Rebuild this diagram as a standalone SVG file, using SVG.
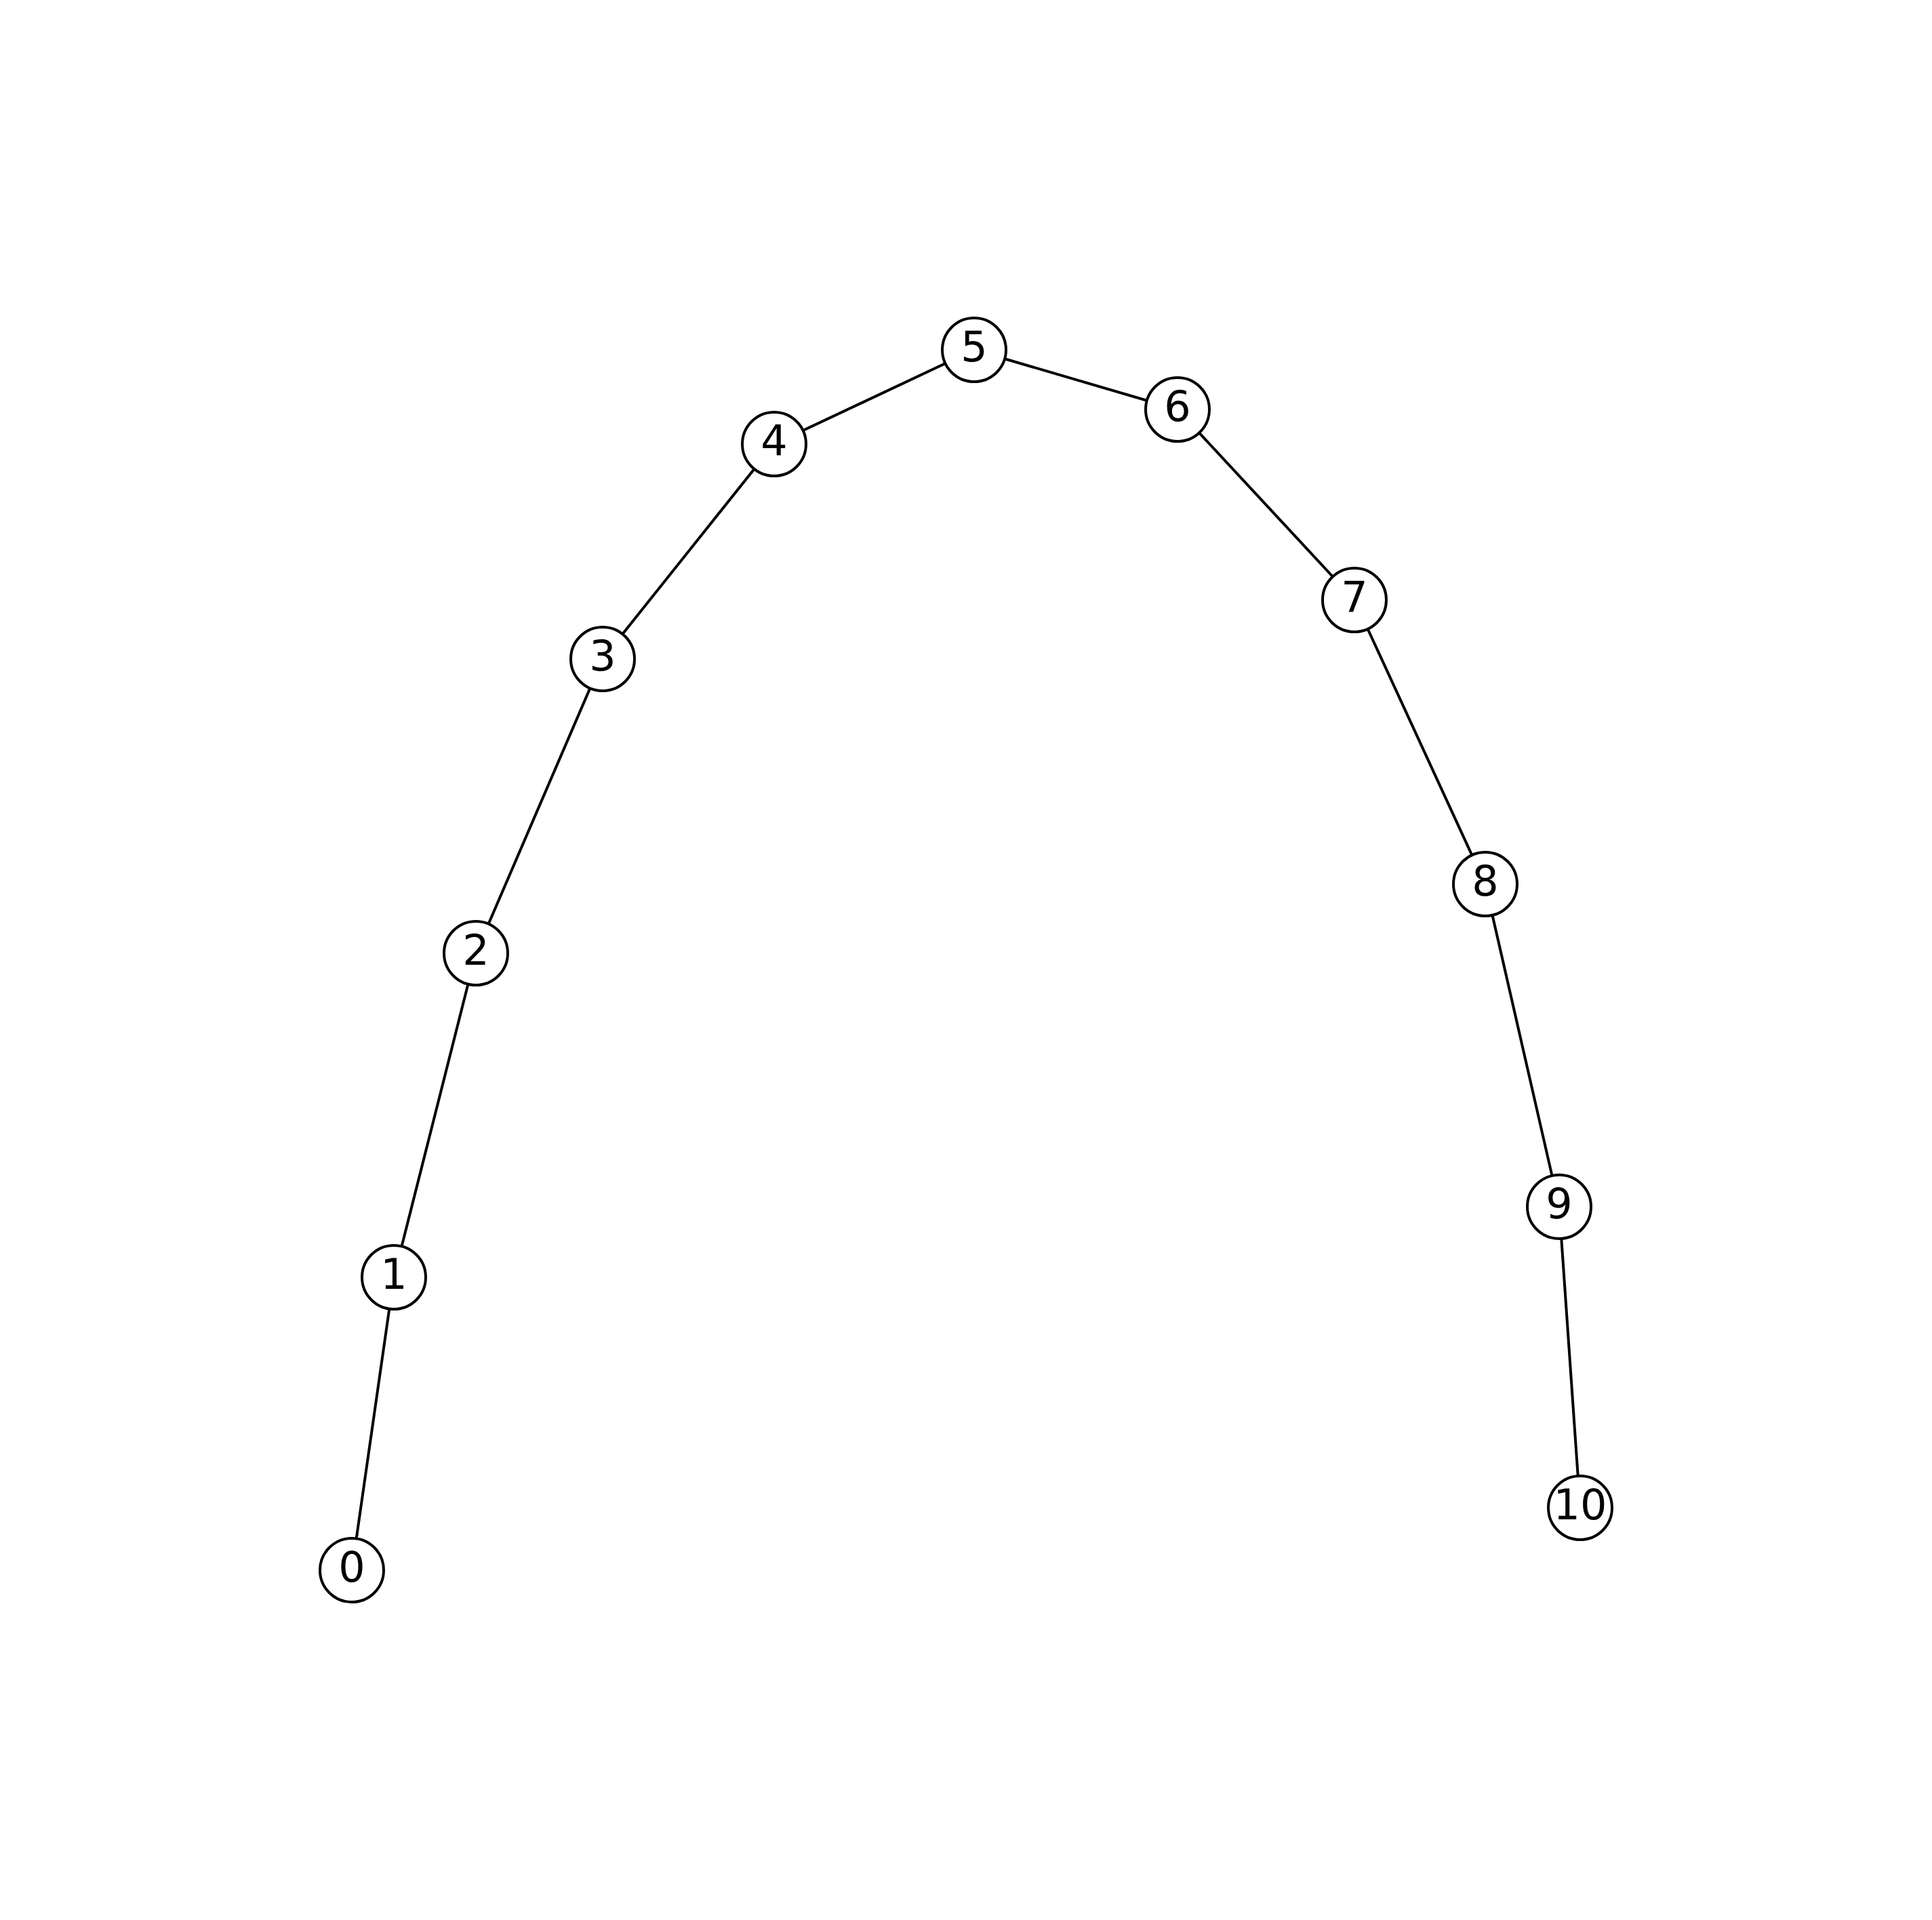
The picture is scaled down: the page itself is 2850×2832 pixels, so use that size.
<svg xmlns="http://www.w3.org/2000/svg" width="2850" height="2832" viewBox="0 0 2850 2832">
<style>
.e{stroke:#000;stroke-width:4;fill:none}
.n circle{fill:#fff;stroke:#000;stroke-width:4}
.n text{font-family:"DejaVu Sans",sans-serif;font-size:62px;text-anchor:middle;fill:#000}
</style>
<rect width="2850" height="2832" fill="#fff"/>
<g id="edges" class="e">
<line x1="519" y1="2316" x2="581" y2="1884"/>
<line x1="581" y1="1884" x2="702" y2="1406"/>
<line x1="702" y1="1406" x2="889" y2="972"/>
<line x1="889" y1="972" x2="1142" y2="655"/>
<line x1="1142" y1="655" x2="1437" y2="516"/>
<line x1="1437" y1="516" x2="1737" y2="604"/>
<line x1="1737" y1="604" x2="1998" y2="885"/>
<line x1="1998" y1="885" x2="2191" y2="1304"/>
<line x1="2191" y1="1304" x2="2300" y2="1780"/>
<line x1="2300" y1="1780" x2="2331" y2="2224"/>
</g>
<g id="n0" class="n"><circle cx="519" cy="2316" r="47"/><text x="519" y="2333">0</text></g>
<g id="n1" class="n"><circle cx="581" cy="1884" r="47"/><text x="581" y="1901">1</text></g>
<g id="n2" class="n"><circle cx="702" cy="1406" r="47"/><text x="702" y="1423">2</text></g>
<g id="n3" class="n"><circle cx="889" cy="972" r="47"/><text x="889" y="989">3</text></g>
<g id="n4" class="n"><circle cx="1142" cy="655" r="47"/><text x="1142" y="672">4</text></g>
<g id="n5" class="n"><circle cx="1437" cy="516" r="47"/><text x="1437" y="533">5</text></g>
<g id="n6" class="n"><circle cx="1737" cy="604" r="47"/><text x="1737" y="621">6</text></g>
<g id="n7" class="n"><circle cx="1998" cy="885" r="47"/><text x="1998" y="902">7</text></g>
<g id="n8" class="n"><circle cx="2191" cy="1304" r="47"/><text x="2191" y="1321">8</text></g>
<g id="n9" class="n"><circle cx="2300" cy="1780" r="47"/><text x="2300" y="1797">9</text></g>
<g id="n10" class="n"><circle cx="2331" cy="2224" r="47"/><text x="2331" y="2241">10</text></g>
</svg>
